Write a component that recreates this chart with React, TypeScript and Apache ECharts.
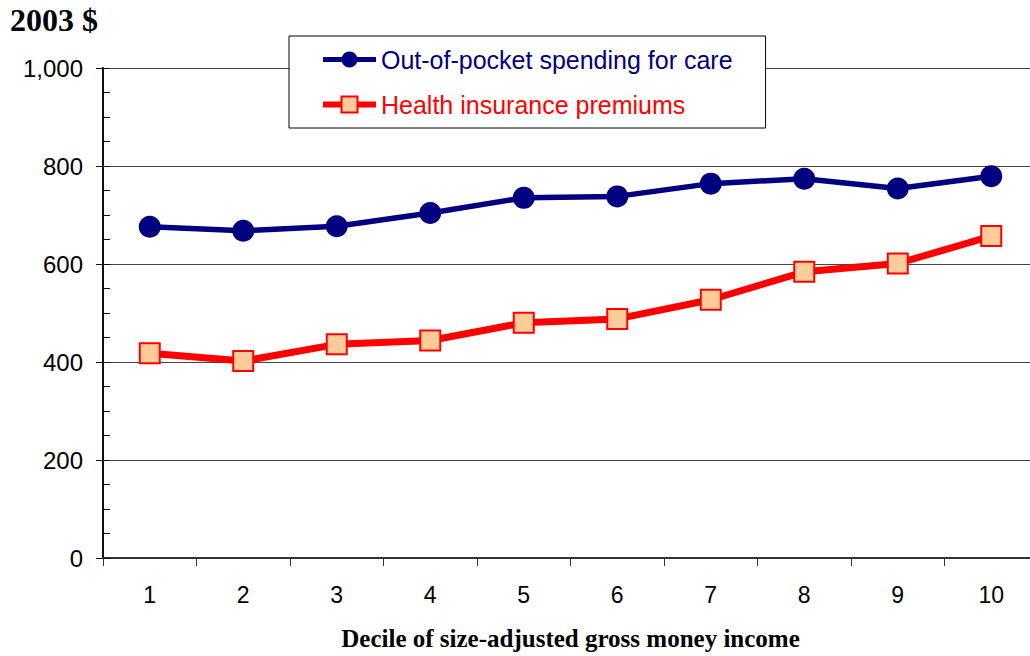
import React, { useEffect, useRef } from "react";
import * as echarts from "echarts";

// Deciles of size-adjusted gross money income
const deciles = ["1", "2", "3", "4", "5", "6", "7", "8", "9", "10"];

// Average annual spending per person, 2003 dollars
const outOfPocket = [676, 668, 677, 704, 735, 738, 764, 774, 754, 779];
const premiums = [418, 402, 436, 444, 480, 488, 527, 584, 601, 657];

const seriesNames = ["Out-of-pocket spending for care", "Health insurance premiums"];

const yTicks = { min: 0, max: 1000, major: 200, minor: 50 };

const SANS = '"Liberation Sans", Arial, sans-serif';
const SERIF = '"Liberation Serif", "Times New Roman", serif';

export default function App() {
  const ref = useRef<HTMLDivElement>(null);

  useEffect(() => {
    if (!ref.current) return;
    const chart = echarts.init(ref.current, undefined, { renderer: "svg" });
    chart.setOption({
      animation: false,
      backgroundColor: "#ffffff",
      grid: { left: 103, right: 0, top: 68, bottom: 97, containLabel: false },
      graphic: [
        {
          type: "text",
          left: 10,
          top: 4,
          style: { text: "2003 $", font: `bold 32px ${SERIF}`, fill: "#000" },
        },
      ],
      legend: {
        orient: "vertical",
        left: 289,
        top: 36,
        width: 478,
        padding: [11, 33, 11, 31],
        itemGap: 20,
        itemWidth: 53,
        itemHeight: 20,
        backgroundColor: "#ffffff",
        borderColor: "#000",
        borderWidth: 1,
        textStyle: { fontFamily: SANS, fontSize: 25 },
        data: [
          {
            name: seriesNames[0],
            textStyle: { color: "#000080" },
            lineStyle: { width: 5, color: "#000080" },
          },
          {
            name: seriesNames[1],
            textStyle: { color: "#ff0000" },
            lineStyle: { width: 6, color: "#ff0000" },
            itemStyle: { color: "#ffcc99", borderColor: "#ff0000", borderWidth: 2 },
          },
        ],
      },
      xAxis: {
        type: "category",
        data: deciles,
        boundaryGap: true,
        name: "Decile of size-adjusted gross money income",
        nameLocation: "middle",
        nameGap: 68,
        nameTextStyle: { fontFamily: SERIF, fontWeight: "bold", fontSize: 25, color: "#000" },
        axisLine: { lineStyle: { color: "#333", width: 2 } },
        axisTick: { show: true, length: 8, lineStyle: { color: "#333", width: 1 } },
        axisLabel: { fontFamily: SANS, fontSize: 23, color: "#000", margin: 25 },
        splitLine: { show: false },
      },
      yAxis: [
        {
          type: "value",
          min: yTicks.min,
          max: yTicks.max,
          interval: yTicks.major,
          axisLine: { show: true, lineStyle: { color: "#111", width: 2 } },
          axisTick: { show: true, length: 7, lineStyle: { color: "#111", width: 1 } },
          axisLabel: {
            fontFamily: SANS,
            fontSize: 24,
            color: "#000",
            margin: 20,
            formatter: (v: number) => v.toLocaleString("en-US"),
          },
          splitLine: { show: true, lineStyle: { color: "#444", width: 1 } },
        },
        {
          type: "value",
          position: "left",
          min: yTicks.min,
          max: yTicks.max,
          interval: yTicks.minor,
          axisLine: { show: false },
          axisTick: { show: true, inside: true, length: 7, lineStyle: { color: "#111", width: 1 } },
          axisLabel: { show: false },
          splitLine: { show: false },
        },
      ],
      series: [
        {
          name: seriesNames[0],
          type: "line",
          yAxisIndex: 0,
          data: outOfPocket,
          symbol: "circle",
          symbolSize: 22,
          lineStyle: { color: "#000080", width: 5.5 },
          itemStyle: { color: "#000080" },
          z: 3,
        },
        {
          name: seriesNames[1],
          type: "line",
          yAxisIndex: 0,
          data: premiums,
          symbol: "rect",
          symbolSize: 20,
          lineStyle: { color: "#ff0000", width: 7 },
          itemStyle: { color: "#ffcc99", borderColor: "#ff0000", borderWidth: 2 },
          z: 2,
        },
      ],
    });
    return () => chart.dispose();
  }, []);

  // The chart is 8px wider than the visible frame, so the plot area
  // continues past the right edge and is clipped there.
  return (
    <div
      style={{
        position: "absolute",
        left: 0,
        top: 0,
        width: 1030,
        height: 656,
        overflow: "hidden",
      }}
    >
      <div ref={ref} style={{ width: 1038, height: 656 }} />
    </div>
  );
}
